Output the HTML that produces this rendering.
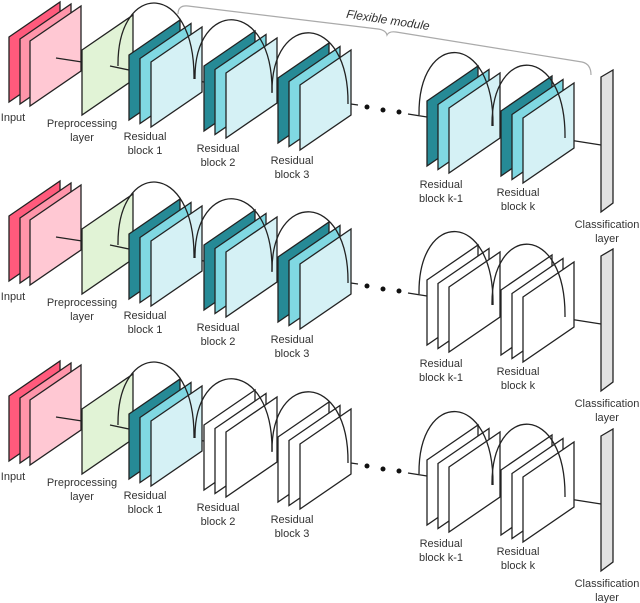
<!DOCTYPE html>
<html><head><meta charset="utf-8"><style>
html,body{margin:0;padding:0;background:#fff}
svg{display:block}
text{font-family:"Liberation Sans",sans-serif;font-size:11px;fill:#333;text-anchor:middle}
</style></head><body>
<svg width="640" height="603" viewBox="0 0 640 603" xmlns="http://www.w3.org/2000/svg">
<defs>
<polygon id="p" points="0,0 51,-35 51,30 0,65" stroke="#222" stroke-width="1.3" stroke-linejoin="miter"/>
<g id="blkC">
<use href="#p" x="-22" y="-7" fill="#268a96"/>
<use href="#p" x="-11" y="-3.5" fill="#80d8e2"/>
<use href="#p" x="0" y="0" fill="#d5f1f5"/>
</g>
<g id="blkW">
<use href="#p" x="-22" y="-7" fill="#fff"/>
<use href="#p" x="-11" y="-3.5" fill="#fff"/>
<use href="#p" x="0" y="0" fill="#fff"/>
</g>
<g id="common" fill="none" stroke="#222" stroke-width="1.3">
<use href="#p" x="9" y="37" fill="#ff5a7c"/>
<use href="#p" x="20" y="39" fill="#ff95aa"/>
<use href="#p" x="30" y="41" fill="#ffc8d3"/>
<use href="#p" x="82" y="50" fill="#e1f3d6"/>
<line x1="56" y1="58" x2="82" y2="62"/>
<line x1="110" y1="66" x2="129" y2="70"/>
<line x1="179" y1="78" x2="204" y2="82"/>
<line x1="255" y1="89" x2="278" y2="93"/>
<line x1="322" y1="100" x2="358" y2="105"/>
<line x1="408" y1="114" x2="427" y2="117"/>
<line x1="471" y1="124" x2="501" y2="129"/>
<line x1="550" y1="137" x2="601" y2="145"/>
<circle cx="367" cy="107" r="2.5" fill="#111" stroke="none"/>
<circle cx="383" cy="110" r="2.5" fill="#111" stroke="none"/>
<circle cx="399" cy="112" r="2.5" fill="#111" stroke="none"/>
<polygon points="601,77 613,70 613,203 601,212" fill="#e2e2e2"/>
</g>
<g id="arcs" fill="none" stroke="#222" stroke-width="1.3">
<path d="M118,66 C117,-20 195,-20 194,79"/>
<path d="M195,79 C194,-2 273,-2 272,92"/>
<path d="M272,93 C271,11 349,11 348,104"/>
<path d="M419,115 C418,30 494,30 493,126"/>
<path d="M492,126 C491,43 566,43 565,138"/>
</g>
<g id="labels">
<text x="13" y="121">Input</text>
<text x="82" y="127">Preprocessing</text><text x="82" y="141">layer</text>
<text x="145" y="140">Residual</text><text x="145" y="154">block 1</text>
<text x="218" y="152">Residual</text><text x="218" y="166">block 2</text>
<text x="292" y="164">Residual</text><text x="292" y="178">block 3</text>
<text x="441" y="188">Residual</text><text x="441" y="202">block k-1</text>
<text x="518" y="196">Residual</text><text x="518" y="210">block k</text>
<text x="607" y="228">Classification</text><text x="607" y="242">layer</text>
</g>
</defs>

<!-- brace -->
<path d="M178,14 Q178,5 188,6 L378,29 Q386,30 387,35 Q389,31 396,32 L582,62 Q591,64 591,75" fill="none" stroke="#aaa" stroke-width="1.2"/>
<text x="388" y="24" transform="rotate(8.5 388 20)" style="font-style:italic;font-size:12px">Flexible module</text>

<!-- row 1 -->
<g>
<use href="#common"/>
<use href="#blkC" x="151" y="62"/>
<use href="#blkC" x="226" y="73"/>
<use href="#blkC" x="300" y="85"/>
<use href="#blkC" x="449" y="108"/>
<use href="#blkC" x="523" y="118"/>
<use href="#arcs"/>
<use href="#labels"/>
</g>
<!-- row 2 -->
<g transform="translate(0,179)">
<use href="#common"/>
<use href="#blkC" x="151" y="62"/>
<use href="#blkC" x="226" y="73"/>
<use href="#blkC" x="300" y="85"/>
<use href="#blkW" x="449" y="108"/>
<use href="#blkW" x="523" y="118"/>
<use href="#arcs"/>
<use href="#labels"/>
</g>
<!-- row 3 -->
<g transform="translate(0,359)">
<use href="#common"/>
<use href="#blkC" x="151" y="62"/>
<use href="#blkW" x="226" y="73"/>
<use href="#blkW" x="300" y="85"/>
<use href="#blkW" x="449" y="108"/>
<use href="#blkW" x="523" y="118"/>
<use href="#arcs"/>
<use href="#labels"/>
</g>
</svg>
</body></html>
